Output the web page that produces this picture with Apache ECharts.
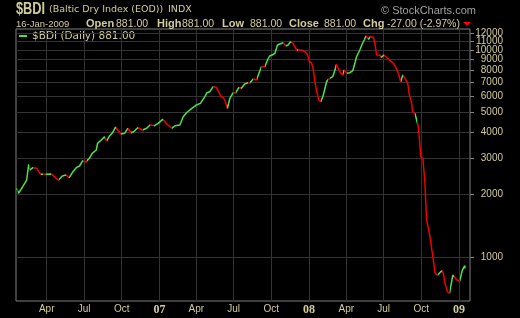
<!DOCTYPE html>
<html><head><meta charset="utf-8">
<script src="https://cdn.jsdelivr.net/npm/echarts@6/dist/echarts.min.js"></script>
<style>html,body{margin:0;padding:0;background:#000}#c{width:520px;height:318px}</style>
</head><body><div id="c"></div>
<script>
const dates = ['2006-01-18','2006-01-22','2006-02-01','2006-02-11','2006-02-16','2006-02-19','2006-02-26','2006-03-08','2006-03-12','2006-03-18',
'2006-03-22','2006-03-30','2006-04-12','2006-04-24','2006-04-30','2006-05-09','2006-05-18','2006-05-26','2006-06-04','2006-06-12',
'2006-06-20','2006-06-28','2006-07-05','2006-07-09','2006-07-14','2006-07-21','2006-07-31','2006-08-03','2006-08-12','2006-08-20',
'2006-08-25','2006-09-01','2006-09-08','2006-09-16','2006-09-21','2006-09-29','2006-10-08','2006-10-16','2006-10-24','2006-10-30',
'2006-11-09','2006-11-21','2006-12-01','2006-12-09','2006-12-20','2006-12-29','2007-01-09','2007-01-19','2007-01-31','2007-02-08',
'2007-02-20','2007-02-28','2007-03-08','2007-03-21','2007-04-01','2007-04-11','2007-04-22','2007-04-27','2007-05-04','2007-05-12',
'2007-05-20','2007-05-27','2007-05-31','2007-06-05','2007-06-11','2007-06-16','2007-06-19','2007-06-22','2007-06-30','2007-07-06',
'2007-07-14','2007-07-20','2007-07-28','2007-08-05','2007-08-10','2007-08-18','2007-08-26','2007-09-01','2007-09-07','2007-09-15',
'2007-09-22','2007-09-27','2007-10-03','2007-10-10','2007-10-16','2007-10-22','2007-10-30','2007-11-05','2007-11-11','2007-11-17',
'2007-11-23','2007-12-02','2007-12-06','2007-12-14','2007-12-22','2007-12-29','2008-01-02','2008-01-07','2008-01-11','2008-01-15',
'2008-01-19','2008-01-25','2008-01-30','2008-02-05','2008-02-09','2008-02-13','2008-02-17','2008-02-21','2008-02-28','2008-03-05',
'2008-03-08','2008-03-12','2008-03-16','2008-03-23','2008-03-27','2008-04-02','2008-04-10','2008-04-17','2008-04-22','2008-04-26',
'2008-05-04','2008-05-10','2008-05-15','2008-05-19','2008-05-25','2008-05-30','2008-06-06','2008-06-10','2008-06-14','2008-06-22',
'2008-06-26','2008-07-02','2008-07-08','2008-07-15','2008-07-25','2008-07-31','2008-08-06','2008-08-12','2008-08-17','2008-08-22',
'2008-08-29','2008-09-02','2008-09-07','2008-09-10','2008-09-16','2008-09-20','2008-09-24','2008-09-30','2008-10-05','2008-10-10',
'2008-10-14','2008-10-21','2008-10-27','2008-10-31','2008-11-04','2008-11-10','2008-11-14','2008-11-20','2008-11-24','2008-11-28',
'2008-12-04','2008-12-09','2008-12-12','2008-12-17','2008-12-21','2008-12-27','2009-01-03','2009-01-09','2009-01-15','2009-01-16'];
const values = [2147,2031,2179,2355,2804,2633,2701,2683,2583,2509,
2554,2509,2520,2400,2355,2462,2490,2416,2583,2701,
2752,2919,2867,2836,2999,3170,3289,3542,3674,3812,
3634,3841,3972,4246,4108,3928,3959,4186,3986,4030,
4214,4108,4186,4342,4308,4424,4626,4390,4186,4308,
4342,4761,4978,5227,5423,5526,5950,6220,6290,6648,
6603,6220,5950,5930,5625,5227,5321,5845,6220,6200,
6603,6531,6849,6950,6940,7243,7163,7719,8307,8290,
8948,9355,9459,9640,10573,10690,10846,10455,10573,10966,
10774,10000,10191,10000,9813,9459,8780,8682,8157,7163,
6458,5733,5625,6062,6178,7029,7220,7163,7430,8068,
8530,8464,7858,7573,8005,7719,7770,7943,8625,9282,
10000,10690,11176,11686,11264,11598,11560,10774,9459,9440,
9220,9459,9220,8948,8625,8249,7719,7029,7573,7300,
6904,6062,5625,5034,4907,4945,4261,3052,2999,2270,
1509,1302,1081,949,834,818,834,859,834,746,
680,668,719,818,834,774,768,860,908,881];
const yTicks = [1000,2000,3000,4000,5000,6000,7000,8000,9000,10000,11000,12000];
const xTicks = ['2006-04-01','2006-07-01','2006-10-01','2007-01-01','2007-04-01','2007-07-01','2007-10-01','2008-01-01','2008-04-01','2008-07-01','2008-10-01','2009-01-01'];
const monthNames = ['Jan','Feb','Mar','Apr','May','Jun','Jul','Aug','Sep','Oct','Nov','Dec'];
const xMin = '2006-01-16', xMax = '2009-01-28';
const yMin = 613, yMax = 12634;
const seriesName = '$BDI (Daily) 881.00';

const KH = '#d2cb9c';
const UP = '#4fe04f', DOWN = '#f00000';
const GRIDC = '#333333';

const ts = dates.map(d => Date.parse(d));
const xTickTs = xTicks.map(d => Date.parse(d));
const pieces = [];
for (let i = 0; i < ts.length - 1; i++) {
  const c = values[i + 1] >= values[i] ? UP : DOWN;
  const last = pieces[pieces.length - 1];
  if (last && last.color === c) last.lt = ts[i + 1];
  else pieces.push({ gte: ts[i], lt: ts[i + 1], color: c });
}
pieces[pieces.length - 1].lte = pieces[pieces.length - 1].lt;
delete pieces[pieces.length - 1].lt;

// labels split over two overlaid identical axes so that no label is dropped by overlap handling
const labelsA = yTicks.filter(v => v !== 11000);
const labelsB = yTicks.filter(v => v === 11000);

const chart = echarts.init(document.getElementById('c'), null, { renderer: 'canvas' });
function txt(x, y, text, font, fill, extra) {
  return Object.assign({ type: 'text', x: x, y: y, silent: true,
    style: { text: text, font: font, fill: fill, verticalAlign: 'middle' } }, extra || {});
}
const yLabelBase = { color: KH, fontFamily: 'Liberation Sans', fontSize: 10, align: 'right', margin: 33,
  hideOverlap: false, showMinLabel: true, showMaxLabel: true,
  formatter: function (v) { return String(Math.round(v)); } };
chart.setOption({
  backgroundColor: '#000000',
  animation: false,
  grid: { left: 16, right: 50, top: 29, bottom: 17, show: true, borderColor: '#808080', borderWidth: 1, backgroundColor: 'transparent' },
  xAxis: {
    type: 'value', min: Date.parse(xMin), max: Date.parse(xMax), scale: true,
    axisLine: { show: false },
    axisTick: { show: false, customValues: xTickTs },
    axisLabel: {
      customValues: xTickTs, color: KH, fontFamily: 'Liberation Sans', fontSize: 10, margin: 3, hideOverlap: false,
      formatter: function (v) {
        const d = new Date(v); const m = d.getUTCMonth();
        if (m === 0) return '{y|' + String(d.getUTCFullYear()).slice(2) + '}';
        return monthNames[m];
      },
      rich: { y: { fontWeight: 'bold', fontFamily: 'Liberation Serif', fontSize: 12, color: KH } }
    },
    splitLine: { show: true, lineStyle: { color: GRIDC, width: 1 } }
  },
  yAxis: [{
    type: 'log', logBase: 10, position: 'right', min: yMin, max: yMax,
    axisLine: { show: false },
    axisTick: { show: true, length: 4, customValues: yTicks, lineStyle: { color: '#808080' } },
    axisLabel: Object.assign({ customValues: labelsA }, yLabelBase),
    splitLine: { show: true, lineStyle: { color: GRIDC, width: 1 } }
  }, {
    type: 'log', logBase: 10, position: 'right', min: yMin, max: yMax, offset: 0,
    axisLine: { show: false },
    axisTick: { show: false, customValues: labelsB },
    axisLabel: Object.assign({ customValues: labelsB }, yLabelBase),
    splitLine: { show: false }
  }],
  visualMap: { type: 'piecewise', show: false, dimension: 0, seriesIndex: 0, pieces: pieces, outOfRange: { color: UP } },
  series: [{
    name: seriesName, type: 'line', showSymbol: false, symbol: 'none', z: 3, yAxisIndex: 0,
    lineStyle: { width: 1.5 },
    data: ts.map((t, i) => [t, values[i]])
  }],
  graphic: [
    txt(16, 10, '$BDI', 'bold 16px "Liberation Sans"', KH, { scaleX: 0.8 }),
    txt(49, 10, '(Baltic Dry Index (EOD))', '9.5px "DejaVu Sans"', KH),
    txt(168, 10, 'INDX', '9.5px "DejaVu Sans"', KH),
    txt(381, 11, '\u00a9 StockCharts.com', '11px "Liberation Sans"', '#a0a0a0'),
    txt(16, 24, '16-Jan-2009', '9.5px "Liberation Sans"', KH),
    txt(86, 24, 'Open', 'bold 11px "Liberation Sans"', KH),
    txt(116, 24, '881.00', '10.5px "Liberation Sans"', KH),
    txt(157, 24, 'High', 'bold 11px "Liberation Sans"', KH),
    txt(182, 24, '881.00', '10.5px "Liberation Sans"', KH),
    txt(222, 24, 'Low', 'bold 11px "Liberation Sans"', KH),
    txt(250, 24, '881.00', '10.5px "Liberation Sans"', KH),
    txt(289, 24, 'Close', 'bold 11px "Liberation Sans"', KH),
    txt(324, 24, '881.00', '10.5px "Liberation Sans"', KH),
    txt(363, 24, 'Chg', 'bold 11px "Liberation Sans"', KH),
    txt(387, 24, '-27.00 (-2.97%)', '10.5px "Liberation Sans"', KH),
    { type: 'polygon', silent: true, shape: { points: [[463, 22], [471, 22], [467, 26]] }, style: { fill: '#ff0000' } },
    { type: 'rect', silent: true, shape: { x: 19, y: 35, width: 8, height: 2 }, style: { fill: UP } },
    txt(32, 36, seriesName, '10.5px "DejaVu Sans"', KH)
  ]
});
</script></body></html>
